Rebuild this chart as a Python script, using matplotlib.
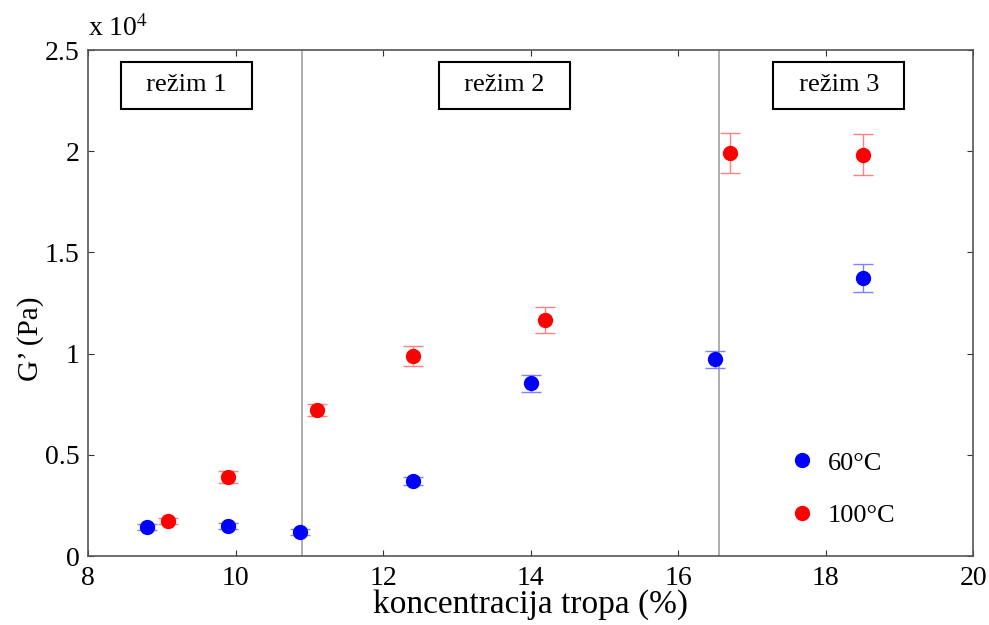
import numpy as np
import matplotlib
matplotlib.use('Agg')
import matplotlib.pyplot as plt

plt.rcParams['font.family'] = ['Liberation Serif', 'DejaVu Serif']

# 60 C series
x60 = [8.8, 9.9, 10.87, 12.4, 14.0, 16.5, 18.5]
y60 = [1430, 1480, 1170, 3700, 8530, 9730, 13740]
e60 = [150, 150, 150, 200, 420, 420, 700]

# 100 C series
x100 = [9.08, 9.9, 11.1, 12.4, 14.2, 16.7, 18.5]
y100 = [1730, 3900, 7210, 9880, 11670, 19910, 19830]
e100 = [150, 300, 280, 500, 650, 1000, 1000]

regime_edges = [10.9, 16.56]
regime_labels = ['režim 1', 'režim 2', 'režim 3']
regime_x = [9.34, 13.65, 18.18]

fig = plt.figure(figsize=(9.89, 6.25), dpi=100)
ax = fig.add_axes([0.089, 0.1104, 0.895, 0.8096])

for xv in regime_edges:
    ax.axvline(xv, color='#a8a8a8', lw=1.3, zorder=1)

ax.errorbar(x60, np.array(y60) / 1e4, yerr=np.array(e60) / 1e4, fmt='none',
            ecolor='#8080ff', elinewidth=1, capsize=7, zorder=2)
ax.errorbar(x100, np.array(y100) / 1e4, yerr=np.array(e100) / 1e4, fmt='none',
            ecolor='#ff8080', elinewidth=1, capsize=7, zorder=2)
ax.plot(x60, np.array(y60) / 1e4, 'o', color='#0000ff', ms=10, zorder=3)
ax.plot(x100, np.array(y100) / 1e4, 'o', color='#ff0000', ms=10, zorder=3)

for xv, lab in zip(regime_x, regime_labels):
    ax.text(xv, 2.325, '\u2002' + lab + '\u2002', ha='center', va='center',
            fontsize=19,
            bbox=dict(boxstyle='square,pad=0.46', fc='white', ec='black', lw=1.5))

# legend drawn like the original (no frame)
ax.plot([17.68], [0.474], 'o', color='#0000ff', ms=10)
ax.plot([17.68], [0.212], 'o', color='#ff0000', ms=10)
ax.text(18.03, 0.455, '60°C', fontsize=19, va='center')
ax.text(18.03, 0.198, '100°C', fontsize=19, va='center')

ax.set_xlim(8, 20)
ax.set_ylim(0, 2.5)
ax.set_xticks(np.arange(8, 21, 2))
ax.set_yticks([0, 0.5, 1, 1.5, 2, 2.5])
ax.set_yticklabels(['0', '0.5', '1', '1.5', '2', '2.5'])
ax.tick_params(direction='in', length=4, top=True, right=True, labelsize=20,
               color='#333333')
ax.tick_params(axis='x', pad=7)
ax.tick_params(axis='y', pad=6)
for s in ax.spines.values():
    s.set_color('#555555')
    s.set_linewidth(1.2)

ax.set_xlabel('koncentracija tropa (%)', fontsize=24, labelpad=-1)
ax.set_ylabel('G\u2019 (Pa)', fontsize=21, labelpad=8)
ax.yaxis.set_label_coords(-0.05, 0.43)
fig.text(0.089, 0.932, r'x 10$^4$', fontsize=20, ha='left', va='bottom',
         math_fontfamily='stix')

fig.savefig('out.png', dpi=100)
